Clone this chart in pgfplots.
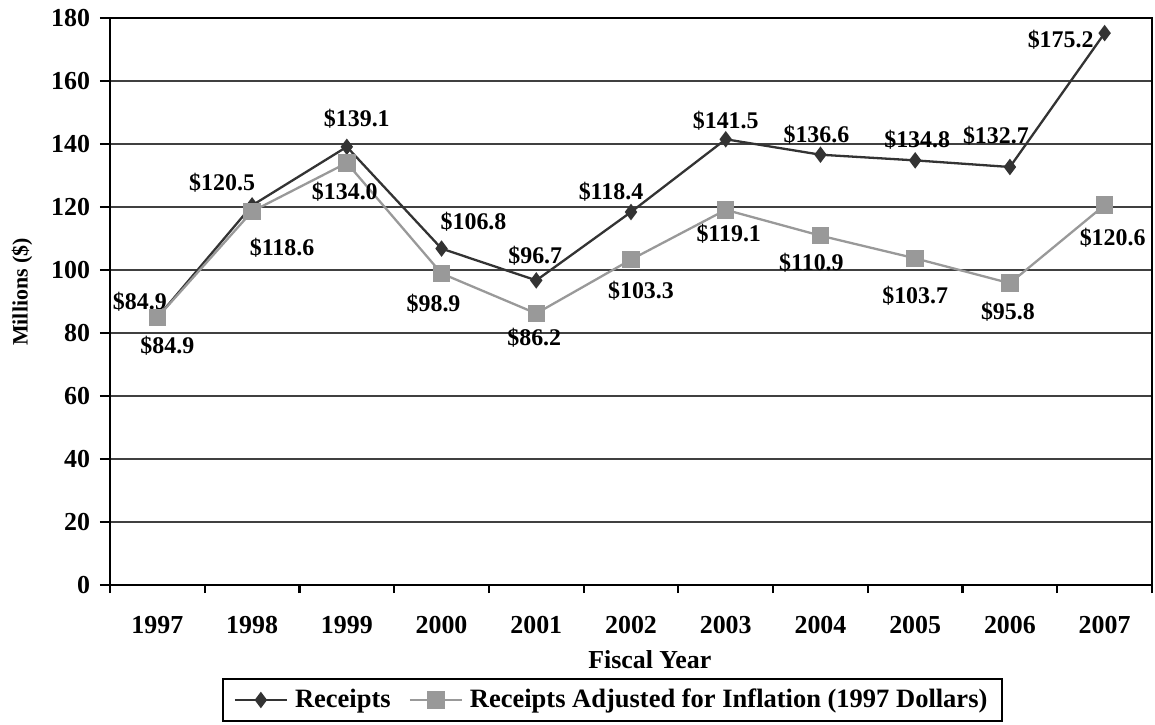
\documentclass[border=0pt]{standalone}
\usepackage{fontspec}
\setmainfont{Liberation Serif}
\usepackage{pgfplots}
\pgfplotsset{compat=1.18}
\definecolor{rcpt}{HTML}{333333}
\definecolor{adj}{HTML}{999999}
\tikzset{lbl/.style={font=\bfseries\fontsize{12}{14}\selectfont, inner sep=0pt, anchor=center}}
\begin{document}
\begin{tikzpicture}
\useasboundingbox (-55bp,-70bp) rectangle (522.5bp,292.5bp);
\begin{axis}[
  at={(0,0)}, anchor=south west,
  scale only axis, width=521bp, height=283.5bp,
  xmin=-0.5, xmax=10.5, ymin=0, ymax=180,
  clip=false,
  axis line style={line width=1.1bp, black},
  xtick={0,...,10},
  xticklabels={1997,1998,1999,2000,2001,2002,2003,2004,2005,2006,2007},
  minor xtick={-0.5,0.5,...,10.5},
  ytick={0,20,...,180},
  xtick pos=lower, ytick pos=left,
  tick align=outside,
  major tick length=5bp, minor tick length=4bp,
  major x tick style={draw=none},
  minor x tick style={draw=black, line width=1.1bp},
  ytick style={draw=black, line width=1.1bp},
  ymajorgrids,
  major grid style={draw=black!75, line width=0.6bp},
  /pgf/number format/assume math mode=true,
  tick label style={font=\bfseries\fontsize{13}{15}\selectfont},
  xticklabel style={yshift=-7bp},
  yticklabel style={xshift=-1.5bp},
  every axis x label/.style={at={(axis description cs:0.518,-0.1323)}, anchor=center},
  every axis y label/.style={at={(axis description cs:-0.0845,0.5168)}, anchor=center, rotate=90},
  xlabel={\bfseries\fontsize{13}{15}\selectfont Fiscal Year},
  ylabel={\bfseries\fontsize{11}{13}\selectfont Millions (\$)},
  legend columns=2,
  legend style={at={(axis description cs:0.4823,-0.2028)}, anchor=center,
    draw=black, line width=1bp, font=\bfseries\fontsize{13.3}{15}\selectfont,
    inner xsep=5.5bp, inner ysep=3bp,
    /tikz/every odd column/.append style={column sep=1.5bp},
    /tikz/every even column/.append style={column sep=7bp}},
  legend image code/.code={\draw[#1, mark repeat=2, mark phase=2] plot coordinates {(0bp,0bp) (13bp,0bp) (26bp,0bp)};},
]
\addplot[color=rcpt, line width=1.15bp, mark=diamond*, mark size=3.2bp, mark options={solid, fill=rcpt, draw=rcpt}]
  coordinates {(0,84.9) (1,120.5) (2,139.1) (3,106.8) (4,96.7) (5,118.4) (6,141.5) (7,136.6) (8,134.8) (9,132.7) (10,175.2)};
\addlegendentry{Receipts}
\addplot[color=adj, line width=1.15bp, mark=square*, mark size=3.8bp, mark options={solid, fill=adj, draw=adj}]
  coordinates {(0,84.9) (1,118.6) (2,134.0) (3,98.9) (4,86.2) (5,103.3) (6,119.1) (7,110.9) (8,103.7) (9,95.8) (10,120.6)};
\addlegendentry{Receipts Adjusted for Inflation (1997 Dollars)\hspace{4bp}}
% Receipts labels
\node[lbl, xshift=-8.75bp, yshift=8bp] at (axis cs:0,84.9) {\$84.9};
\node[lbl, xshift=-15bp, yshift=11.5bp] at (axis cs:1,120.5) {\$120.5};
\node[lbl, xshift=5bp, yshift=14bp] at (axis cs:2,139.1) {\$139.1};
\node[lbl, xshift=16bp, yshift=13.5bp] at (axis cs:3,106.8) {\$106.8};
\node[lbl, xshift=-0.5bp, yshift=12.5bp] at (axis cs:4,96.7) {\$96.7};
\node[lbl, xshift=-10bp, yshift=10bp] at (axis cs:5,118.4) {\$118.4};
\node[lbl, xshift=0bp, yshift=9.5bp] at (axis cs:6,141.5) {\$141.5};
\node[lbl, xshift=-2bp, yshift=10bp] at (axis cs:7,136.6) {\$136.6};
\node[lbl, xshift=1bp, yshift=10.5bp] at (axis cs:8,134.8) {\$134.8};
\node[lbl, xshift=-7bp, yshift=15.5bp] at (axis cs:9,132.7) {\$132.7};
\node[lbl, xshift=-22bp, yshift=-3.5bp] at (axis cs:10,175.2) {\$175.2};
% Adjusted labels
\node[lbl, xshift=5bp, yshift=-14bp] at (axis cs:0,84.9) {\$84.9};
\node[lbl, xshift=15bp, yshift=-18bp] at (axis cs:1,118.6) {\$118.6};
\node[lbl, xshift=-1bp, yshift=-14.5bp] at (axis cs:2,134.0) {\$134.0};
\node[lbl, xshift=-4bp, yshift=-15bp] at (axis cs:3,98.9) {\$98.9};
\node[lbl, xshift=-1bp, yshift=-12bp] at (axis cs:4,86.2) {\$86.2};
\node[lbl, xshift=5bp, yshift=-15.5bp] at (axis cs:5,103.3) {\$103.3};
\node[lbl, xshift=1.5bp, yshift=-12bp] at (axis cs:6,119.1) {\$119.1};
\node[lbl, xshift=-4.5bp, yshift=-13.5bp] at (axis cs:7,110.9) {\$110.9};
\node[lbl, xshift=0bp, yshift=-18.5bp] at (axis cs:8,103.7) {\$103.7};
\node[lbl, xshift=-1bp, yshift=-14.5bp] at (axis cs:9,95.8) {\$95.8};
\node[lbl, xshift=4bp, yshift=-16.5bp] at (axis cs:10,120.6) {\$120.6};
\end{axis}
\end{tikzpicture}
\end{document}
